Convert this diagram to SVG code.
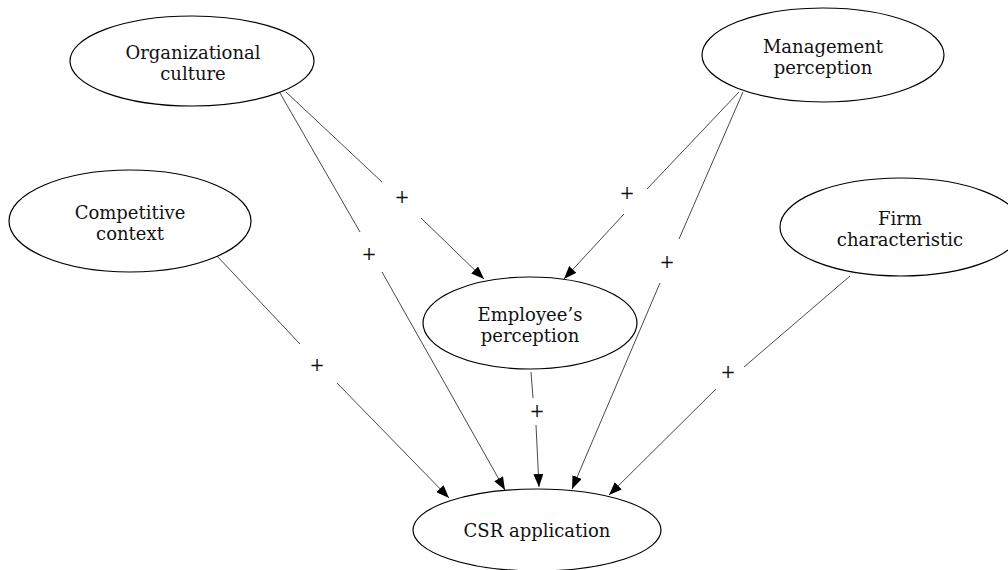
<svg xmlns="http://www.w3.org/2000/svg" width="1008" height="570" viewBox="0 0 1008 570">
<style>
.node ellipse{fill:#fff;stroke:#000;stroke-width:1.2}
.node text,.lbl{font-family:"DejaVu Serif","Liberation Serif",serif;font-size:18px;fill:#111;text-anchor:middle}
.edge{fill:none;stroke:#333;stroke-width:0.9}
</style>
<defs>
<marker id="ah" viewBox="0 0 13 10" refX="13" refY="5" markerWidth="13" markerHeight="10" orient="auto" markerUnits="userSpaceOnUse">
<path d="M0,0 L13,5 L0,10 z" fill="#000"/>
</marker>
</defs>
<rect width="1008" height="570" fill="#fff"/>
<g id="connectors">
<path class="edge" d="M286,92 L382,182"/>
<path class="edge" d="M421,218 L484,279" marker-end="url(#ah)"/>
<path class="edge" d="M280,93 L360,232"/>
<path class="edge" d="M382,272 L505,490" marker-end="url(#ah)"/>
<path class="edge" d="M739,92 L647,189"/>
<path class="edge" d="M624,214 L564,279" marker-end="url(#ah)"/>
<path class="edge" d="M743,92 L679,239"/>
<path class="edge" d="M660,283 L572,489" marker-end="url(#ah)"/>
<path class="edge" d="M217,256 L300,344"/>
<path class="edge" d="M337,383 L449,498" marker-end="url(#ah)"/>
<path class="edge" d="M531,372 L533,398"/>
<path class="edge" d="M536,425 L539,487" marker-end="url(#ah)"/>
<path class="edge" d="M850,276 L744,367"/>
<path class="edge" d="M716,389 L609,495" marker-end="url(#ah)"/>
<text class="lbl" x="402" y="203">+</text>
<text class="lbl" x="369" y="260">+</text>
<text class="lbl" x="627" y="199">+</text>
<text class="lbl" x="667" y="268">+</text>
<text class="lbl" x="317" y="371">+</text>
<text class="lbl" x="537" y="417">+</text>
<text class="lbl" x="728" y="378">+</text>
</g>
<g id="org" class="node"><ellipse cx="192" cy="61" rx="122" ry="45"/><text x="193" y="59">Organizational</text><text x="193" y="80">culture</text></g>
<g id="mgmt" class="node"><ellipse cx="823" cy="55" rx="121" ry="47"/><text x="823" y="53">Management</text><text x="823" y="74">perception</text></g>
<g id="comp" class="node"><ellipse cx="130" cy="221" rx="121" ry="51"/><text x="130" y="219">Competitive</text><text x="130" y="240">context</text></g>
<g id="firm" class="node"><ellipse cx="901" cy="227" rx="121" ry="49"/><text x="900" y="225">Firm</text><text x="900" y="246">characteristic</text></g>
<g id="emp" class="node"><ellipse cx="530" cy="323" rx="107" ry="46"/><text x="530" y="321">Employee’s</text><text x="530" y="342">perception</text></g>
<g id="csr" class="node"><ellipse cx="537" cy="530" rx="124" ry="41"/><text x="537" y="537">CSR application</text></g>
</svg>
